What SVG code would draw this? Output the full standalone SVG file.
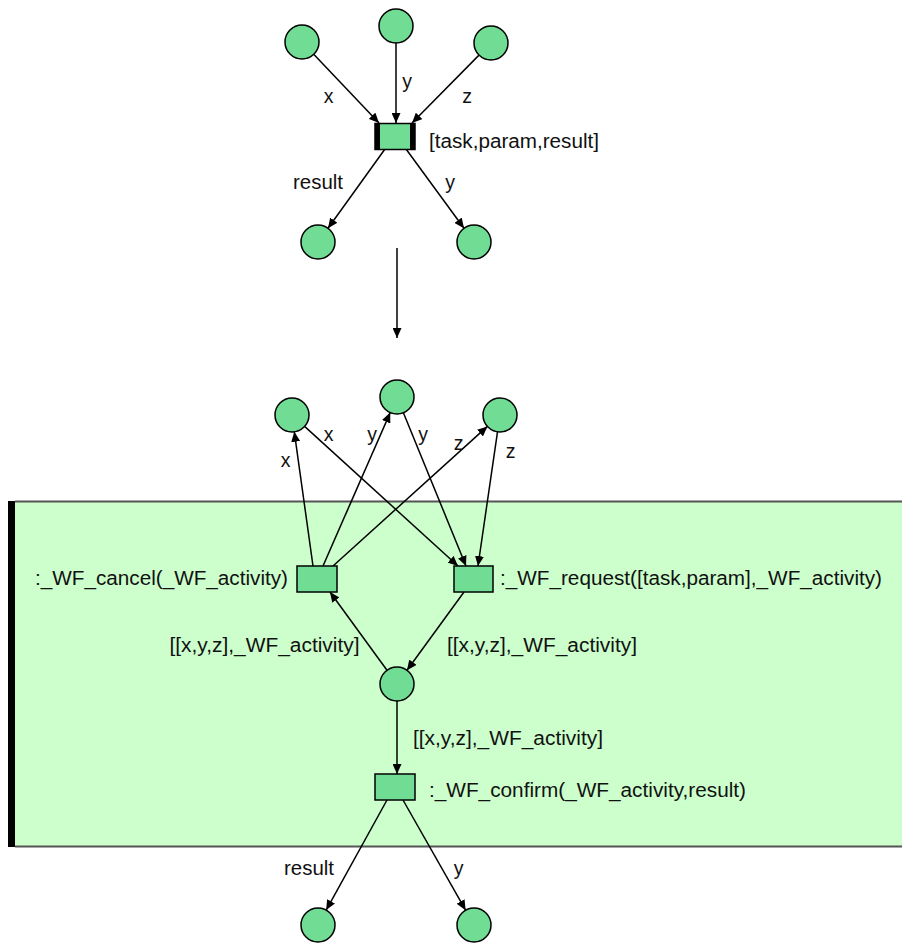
<svg xmlns="http://www.w3.org/2000/svg" width="902" height="945" viewBox="0 0 902 945">
<style>
  .place { fill: #70DC94; stroke: #000; stroke-width: 1.5; }
  .trans { fill: #70DC94; stroke: #000; stroke-width: 1.5; }
  .edge { stroke: #000; stroke-width: 1.5; fill: none; marker-end: url(#arrow); }
  text { font-family: "Liberation Sans", Arial, sans-serif; font-size: 19.5px; fill: #111; }
  .mid { text-anchor: middle; }
</style>
<defs>
  <marker id="arrow" markerWidth="10" markerHeight="9" refX="10" refY="4.5" orient="auto" markerUnits="userSpaceOnUse">
    <path d="M0,0 L10,4.5 L0,9 z" fill="#000"/>
  </marker>
</defs>
<rect width="902" height="945" fill="#fff"/>

<g id="region">
  <rect x="15" y="501" width="890" height="346" fill="#CCFFCC"/>
  <line x1="15" y1="501.5" x2="902" y2="501.5" stroke="#555" stroke-width="2"/>
  <line x1="15" y1="846.5" x2="902" y2="846.5" stroke="#555" stroke-width="2"/>
  <rect x="8" y="501" width="7" height="346" fill="#000"/>
</g>

<g id="connectors">
  <line class="edge" x1="313.7" y1="54.3" x2="379" y2="123"/>
  <line class="edge" x1="396" y1="43" x2="396" y2="123"/>
  <line class="edge" x1="479" y1="55.1" x2="412" y2="123"/>
  <line class="edge" x1="385" y1="149" x2="328" y2="228.3"/>
  <line class="edge" x1="406" y1="149" x2="464" y2="228.3"/>
  <line class="edge" x1="397" y1="248" x2="397" y2="338"/>

  <line class="edge" x1="313" y1="566" x2="294.3" y2="431.8"/>
  <line class="edge" x1="304.6" y1="426.4" x2="458" y2="566"/>
  <line class="edge" x1="323" y1="566" x2="390.2" y2="412.6"/>
  <line class="edge" x1="403.4" y1="412.7" x2="466" y2="566"/>
  <line class="edge" x1="333" y1="566" x2="487.4" y2="426.4"/>
  <line class="edge" x1="497.5" y1="431.8" x2="478" y2="566"/>
  <line class="edge" x1="387" y1="670.3" x2="330" y2="592"/>
  <line class="edge" x1="464" y1="592" x2="407" y2="670.3"/>
  <line class="edge" x1="397" y1="701" x2="397" y2="774"/>
  <line class="edge" x1="387" y1="800" x2="326.2" y2="910.1"/>
  <line class="edge" x1="403" y1="800" x2="465.6" y2="910.2"/>
</g>

<g id="edge-labels">
  <text class="mid" x="328.5" y="103">x</text>
  <text class="mid" x="407" y="88">y</text>
  <text class="mid" x="467" y="103">z</text>
  <text x="293" y="189" textLength="50" lengthAdjust="spacingAndGlyphs">result</text>
  <text class="mid" x="450" y="189">y</text>

  <text class="mid" x="285.5" y="467">x</text>
  <text class="mid" x="328.5" y="441">x</text>
  <text class="mid" x="372" y="441">y</text>
  <text class="mid" x="423" y="441">y</text>
  <text class="mid" x="458.5" y="450">z</text>
  <text class="mid" x="510.5" y="458">z</text>
  <text x="169.5" y="652" textLength="190" lengthAdjust="spacingAndGlyphs">[[x,y,z],_WF_activity]</text>
  <text x="447" y="652" textLength="190" lengthAdjust="spacingAndGlyphs">[[x,y,z],_WF_activity]</text>
  <text x="413" y="745" textLength="190" lengthAdjust="spacingAndGlyphs">[[x,y,z],_WF_activity]</text>
  <text x="284" y="875" textLength="50" lengthAdjust="spacingAndGlyphs">result</text>
  <text class="mid" x="458.5" y="875">y</text>
</g>

<g id="p-top-x"><circle class="place" cx="302" cy="42" r="17"/></g>
<g id="p-top-y"><circle class="place" cx="396" cy="26" r="17"/></g>
<g id="p-top-z"><circle class="place" cx="491" cy="43" r="17"/></g>
<g id="t-task">
  <rect class="trans" x="375" y="123.5" width="40" height="26"/>
  <rect x="375" y="123" width="5" height="27" fill="#000"/>
  <rect x="410" y="123" width="5" height="27" fill="#000"/>
  <text x="429" y="148" textLength="170" lengthAdjust="spacingAndGlyphs">[task,param,result]</text>
</g>
<g id="p-top-result"><circle class="place" cx="318" cy="242" r="17"/></g>
<g id="p-top-y-out"><circle class="place" cx="474" cy="242" r="17"/></g>

<g id="p-x"><circle class="place" cx="292" cy="415" r="17"/></g>
<g id="p-y"><circle class="place" cx="397" cy="397" r="17"/></g>
<g id="p-z"><circle class="place" cx="500" cy="415" r="17"/></g>
<g id="t-cancel">
  <rect class="trans" x="297" y="566" width="40" height="26"/>
  <text x="35" y="585" textLength="253" lengthAdjust="spacingAndGlyphs">:_WF_cancel(_WF_activity)</text>
</g>
<g id="t-request">
  <rect class="trans" x="454" y="566" width="39" height="26"/>
  <text x="500" y="585" textLength="382" lengthAdjust="spacingAndGlyphs">:_WF_request([task,param],_WF_activity)</text>
</g>
<g id="p-activity"><circle class="place" cx="397" cy="684" r="17"/></g>
<g id="t-confirm">
  <rect class="trans" x="375" y="774" width="40" height="26"/>
  <text x="429" y="797" textLength="317" lengthAdjust="spacingAndGlyphs">:_WF_confirm(_WF_activity,result)</text>
</g>
<g id="p-result"><circle class="place" cx="318" cy="925" r="17"/></g>
<g id="p-y-out"><circle class="place" cx="474" cy="925" r="17"/></g>
</svg>
